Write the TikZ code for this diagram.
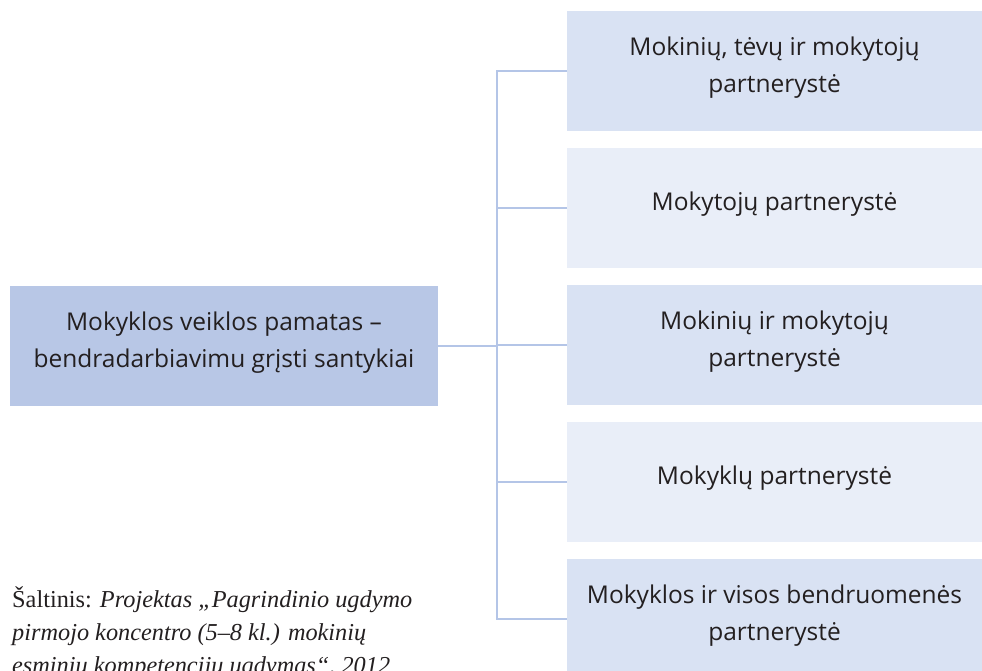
\documentclass[tikz,border=0pt]{standalone}
\usepackage{fontspec}
\setmainfont{Liberation Serif}
\newfontfamily\boxfont{Open Sans}
\usetikzlibrary{calc}
\definecolor{rootfill}{HTML}{B8C7E6}
\definecolor{darkfill}{HTML}{D9E2F3}
\definecolor{lightfill}{HTML}{E9EEF8}
\definecolor{linkcol}{HTML}{B4C5E7}
\definecolor{inkcol}{HTML}{231F20}
\begin{document}
\begin{tikzpicture}[x=1pt,y=-1pt,
  box/.style={rectangle, inner sep=0pt, outer sep=0pt, minimum height=120pt,
    anchor=north west},
  branch/.style={box, minimum width=415pt},
  boxtext/.style={inner sep=0pt, align=center, text=inkcol, yshift=3.5pt,
    font=\boxfont\fontsize{24.5}{37.5}\selectfont},
  link/.style={draw=linkcol, line width=2.6pt},
  source/.style={anchor=base west, inner sep=0pt, text=inkcol,
    font=\fontsize{24.3}{33}\selectfont}]
\useasboundingbox (0,0) rectangle (982,671);
\clip (0,0) rectangle (982,671);

% box fills
\node[box, fill=rootfill, minimum width=428pt] (root) at (10,286) {};
\node[branch, fill=darkfill]  (b1) at (567,11)  {};
\node[branch, fill=lightfill] (b2) at (567,148) {};
\node[branch, fill=darkfill]  (b3) at (567,285) {};
\node[branch, fill=lightfill] (b4) at (567,422) {};
\node[branch, fill=darkfill]  (b5) at (567,559) {};

% box labels
\node[boxtext] (roott) at (root.center) {Mokyklos veiklos pamatas –\\bendradarbiavimu grįsti santykiai};
\node[boxtext] (b1t) at (b1.center) {Mokinių, tėvų ir mokytojų\\partnerystė};
\node[boxtext] (b2t) at (b2.center) {Mokytojų partnerystė};
\node[boxtext] (b3t) at (b3.center) {Mokinių ir mokytojų\\partnerystė};
\node[boxtext] (b4t) at (b4.center) {Mokyklų partnerystė};
\node[boxtext] (b5t) at (b5.center) {Mokyklos ir visos bendruomenės\\partnerystė};

% connectors
\coordinate (hub) at (497,346);
\draw[link] (b1.west) -| (hub) |- (b5.west);
\draw[link] (root.east) -- (root.east -| hub);
\draw[link] (b2.west) -- (b2.west -| hub);
\draw[link] (b3.west) -- (b3.west -| hub);
\draw[link] (b4.west) -- (b4.west -| hub);

% source note
\node[source] (src1) at (12,607) {Šaltinis: \textit{Projektas „Pagrindinio ugdymo}};
\node[source] (src2) at (12,640) {\textit{pirmojo koncentro (5–8 kl.) mokinių}};
\node[source] (src3) at (12,673) {\textit{esminių kompetencijų ugdymas“, 2012}};
\end{tikzpicture}
\end{document}
